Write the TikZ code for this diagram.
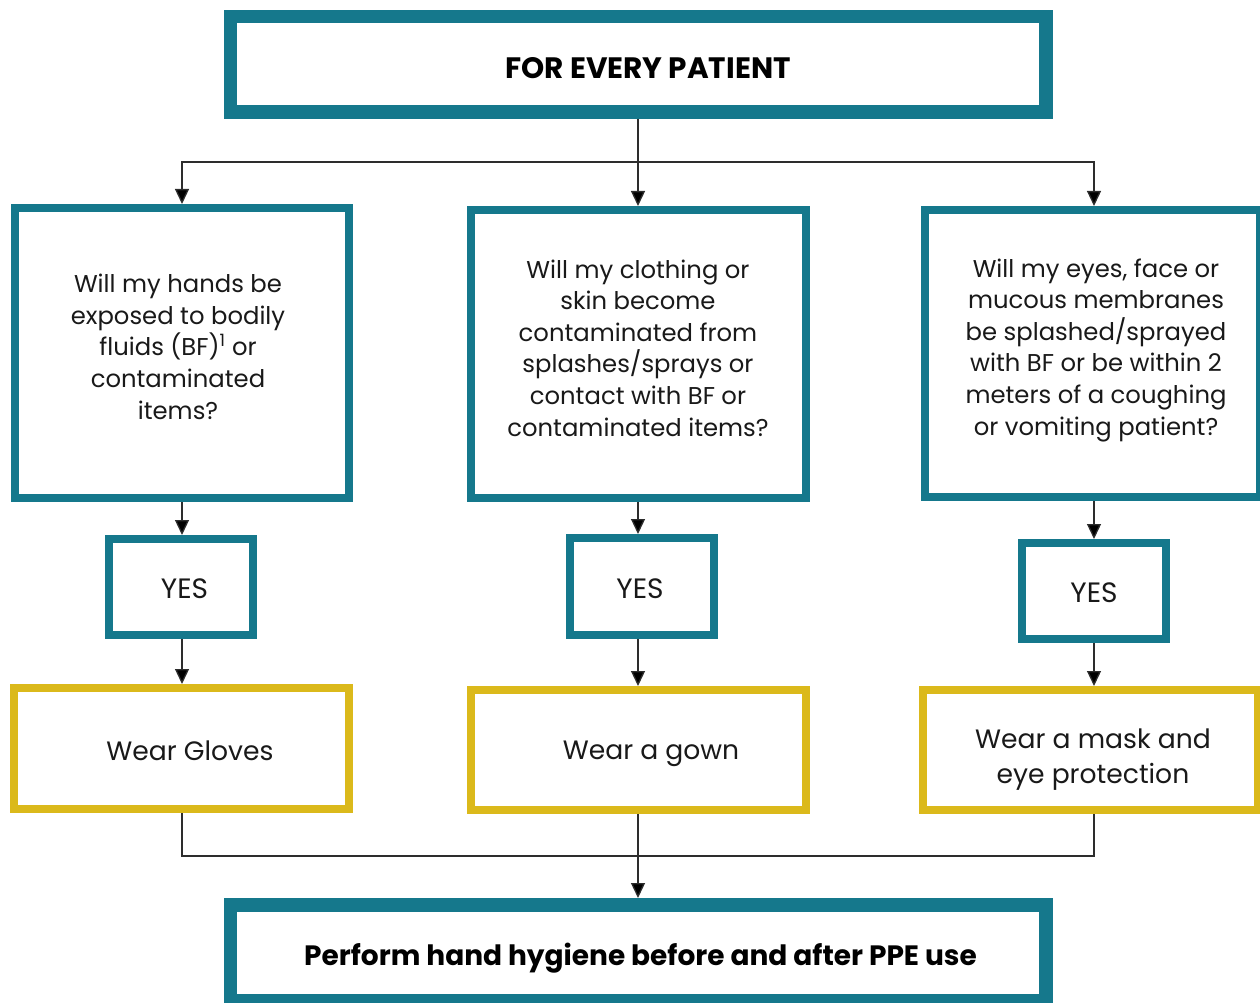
\documentclass[tikz,border=0pt]{standalone}
\usepackage{fontspec}
\setmainfont{Poppins}
\usetikzlibrary{arrows.meta}
\definecolor{tealc}{RGB}{21,120,140}
\definecolor{goldc}{RGB}{219,185,27}
\definecolor{txtc}{RGB}{25,25,25}
\definecolor{linec}{RGB}{45,45,45}
\tikzset{
  tbox/.style={draw=tealc, line width=13.5pt, inner sep=0pt, fill=white},
  qbox/.style={draw=tealc, line width=8pt, inner sep=0pt, fill=white},
  ybox/.style={draw=goldc, line width=8pt, inner sep=0pt, fill=white},
  qtext/.style={anchor=base, align=center, text=txtc, inner sep=0pt, font=\fontsize{24.3}{31.6}\selectfont},
  atext/.style={anchor=base, align=center, text=txtc, inner sep=0pt, font=\fontsize{26.6}{35}\selectfont},
  ytext/.style={anchor=base, align=center, text=txtc, inner sep=0pt, font=\fontsize{28}{35}\selectfont},
  btext/.style={anchor=base, align=center, text=black, inner sep=0pt, font=\bfseries\fontsize{28}{30}\selectfont},
  conn/.style={draw=linec, line width=1.3pt},
  arr/.style={conn, -{Triangle[length=15pt,width=14pt,fill=black]}},
}
\begin{document}
\begin{tikzpicture}[x=1pt,y=-1pt]
\useasboundingbox (0,0) rectangle (1260,1003);
% boxes
\node[tbox, minimum width=815.5pt, minimum height=95.5pt] (top) at (638,64.5) {};
\node[qbox, minimum width=334pt, minimum height=290pt] (q1) at (182,353) {};
\node[qbox, minimum width=335pt, minimum height=288pt] (q2) at (638.5,354) {};
\node[qbox, minimum width=335pt, minimum height=287pt] (q3) at (1092.5,353.5) {};
\node[qbox, minimum width=144pt, minimum height=96pt] (yes1) at (181,587) {};
\node[qbox, minimum width=144pt, minimum height=97pt] (yes2) at (642,586.5) {};
\node[qbox, minimum width=144pt, minimum height=96pt] (yes3) at (1094,591) {};
\node[ybox, minimum width=335pt, minimum height=121pt] (g1) at (181.5,748.5) {};
\node[ybox, minimum width=335pt, minimum height=120pt] (g2) at (638.5,750) {};
\node[ybox, minimum width=335pt, minimum height=120pt] (g3) at (1090.5,750) {};
\node[tbox, minimum width=815.5pt, minimum height=96pt] (bot) at (638,952.75) {};
% texts
\node[btext, font=\bfseries\fontsize{29.5}{30}\selectfont] (topt) at (648,79) {FOR EVERY PATIENT};
\node[qtext] (q1t) at (178,419) {Will my hands be\\exposed to bodily\\fluids (BF)\textsuperscript{1} or\\contaminated\\items?};
\node[qtext] (q2t) at (638,436) {Will my clothing or\\skin become\\contaminated from\\splashes/sprays or\\contact with BF or\\contaminated items?};
\node[qtext] (q3t) at (1096,435) {Will my eyes, face or\\mucous membranes\\be splashed/sprayed\\with BF or be within 2\\meters of a coughing\\or vomiting patient?};
\node[ytext] (yes1t) at (184.5,598) {YES};
\node[ytext] (yes2t) at (640,598) {YES};
\node[ytext] (yes3t) at (1094,602) {YES};
\node[atext] (g1t) at (190,760) {Wear Gloves};
\node[atext] (g2t) at (651,759) {Wear a gown};
\node[atext] (g3t) at (1093,783) {Wear a mask and\\eye protection};
\node[btext] (bott) at (640.5,965) {Perform hand hygiene before and after PPE use};
% connectors
\coordinate (split) at (638,162);
\coordinate (join) at (638,856);
\draw[arr] (top.south) -- (top.south |- q2.north);
\draw[arr] (split) -| (q1.north);
\draw[arr] (split) -| (q3.north -| yes3.north);
\draw[arr] (q1.south) -- (q1.south |- yes1.north);
\draw[arr] (q1.south |- yes1.south) -- (q1.south |- g1.north);
\draw[arr] (top.south |- q2.south) -- (top.south |- yes2.north);
\draw[arr] (top.south |- yes2.south) -- (top.south |- g2.north);
\draw[arr] (yes3.north |- q3.south) -- (yes3.north);
\draw[arr] (yes3.south) -- (yes3.south |- g3.north);
\draw[conn] (q1.south |- g1.south) |- (join);
\draw[conn] (yes3.south |- g3.south) |- (join);
\draw[arr] (top.south |- g2.south) -- (bot.north);
\end{tikzpicture}
\end{document}
